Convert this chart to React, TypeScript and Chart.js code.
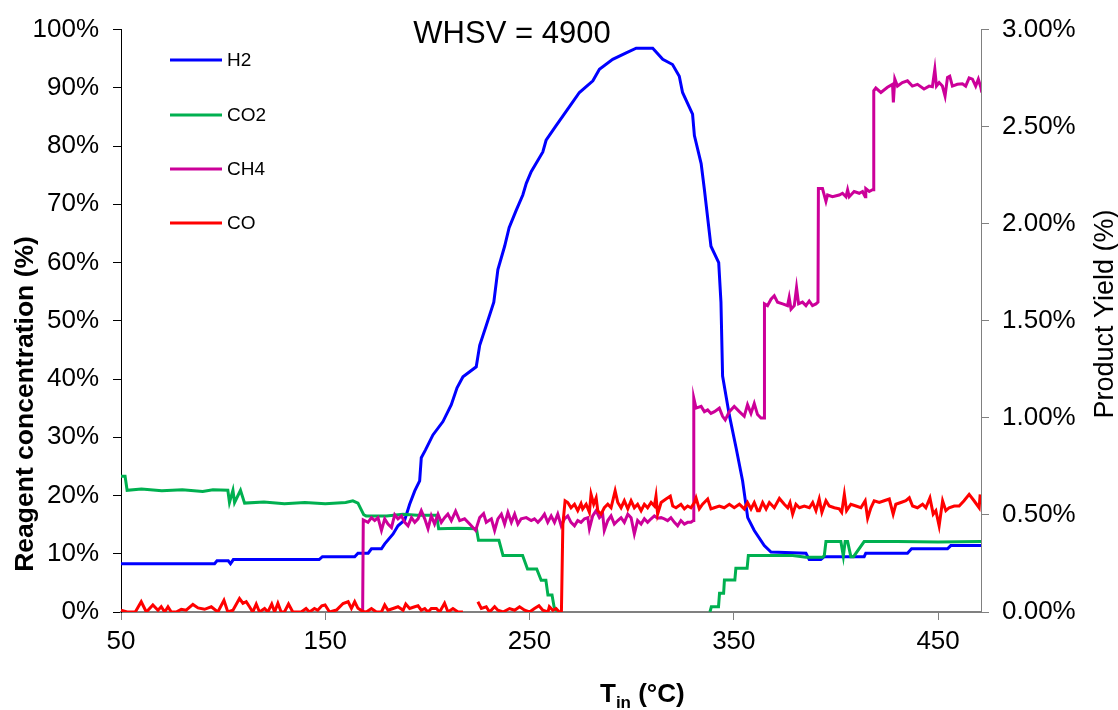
import React, { useEffect, useRef } from "react";
import { Chart, registerables } from "chart.js";

Chart.register(...registerables);

const FONT = '"Liberation Sans", Arial, Helvetica, sans-serif';

// X axis tick labels (inlet temperature, °C)
const xTicks = [50, 150, 250, 350, 450];

// H2 reagent concentration (%)
const h2T = [50, 95.8, 97, 102.5, 103.6, 105, 147, 148.6, 164.4, 166, 171, 172.6, 177.5, 179.1, 183.2, 185.6, 188.9, 191.3, 193.8, 196.2, 197, 199, 202.7, 207.6, 211.7, 214.5, 217.4, 223.9, 225.6, 228.8, 232.5, 234.5, 237.8, 240, 243.5, 246.7, 248.4, 250.8, 256.5, 258.1, 263, 270.4, 274.4, 281, 284.2, 290.7, 297.3, 302.2, 310.3, 315.2, 320, 323.3, 324.9, 329.8, 330.7, 334, 335.6, 338.8, 342.6, 343.7, 344.5, 347.8, 351.1, 354.3, 356.8, 360, 364.9, 368.2, 385.3, 386.9, 392.6, 394.3, 413.8, 414.6, 435, 437, 454.6, 456.2, 471];
const h2V = [8.3, 8.3, 8.8, 8.8, 8.3, 9.0, 9.0, 9.5, 9.5, 10.1, 10.1, 10.85, 10.85, 11.7, 13.4, 14.8, 15.8, 18.5, 20.8, 22.5, 26.5, 27.8, 30.4, 32.7, 35.6, 38.5, 40.4, 42.1, 45.8, 49.2, 53.2, 58.8, 62.8, 66, 69.0, 71.6, 73.6, 75.6, 79.0, 81.0, 83.5, 87.2, 89.2, 91.2, 93.2, 94.9, 96.0, 96.8, 96.8, 94.9, 94.0, 92.0, 89.2, 85.5, 81.8, 77.0, 72.5, 62.8, 60.0, 53.2, 40.5, 33.8, 28.2, 22.5, 16.2, 14.0, 11.4, 10.3, 10.1, 9.0, 9.0, 9.5, 9.5, 10.1, 10.1, 10.85, 10.85, 11.4, 11.4];

// CO2 reagent concentration (%)
const co2T = [50, 52, 53, 60, 70, 80, 90, 95, 102.3, 103.1, 104.8, 105.6, 108.5, 110.5, 120, 130, 140, 150, 160, 163.5, 166, 168.8, 170, 180, 188, 195, 204.5, 205.5, 215, 224, 225, 235, 237, 246.6, 249, 253.5, 255.7, 258, 259, 261, 262, 263.5, 300, 338.3, 339, 342.5, 343, 345, 345.4, 350.5, 351, 356.5, 357.1, 365, 378.8, 385.3, 393.5, 394.3, 395.1, 402.4, 403.6, 404.5, 405.7, 407.3, 408.6, 413.8, 430, 450, 471];
const co2V = [23.3, 23.3, 20.9, 21.1, 20.8, 21.0, 20.7, 21.0, 20.9, 18.8, 20.9, 18.8, 20.9, 18.7, 18.9, 18.6, 18.8, 18.6, 18.8, 19.1, 18.7, 16.7, 16.5, 16.5, 16.8, 16.6, 16.6, 14.3, 14.4, 14.3, 12.3, 12.3, 9.7, 9.7, 7.4, 7.4, 5.45, 5.45, 2.9, 2.9, 0.9, 0.1, null, 0, 0.9, 0.9, 3.2, 3.2, 5.5, 5.5, 7.5, 7.5, 9.7, 9.7, 9.7, 9.4, 9.4, 9.7, 12.1, 12.1, 9.6, 12.1, 12.1, 9.5, 9.5, 12.1, 12.1, 12.0, 12.1];

// CH4 product yield (%)
const ch4T = [168.3, 168.6, 170.9, 172.6, 174.2, 175.8, 177.5, 179.1, 180.7, 182.4, 184.0, 185.6, 187.3, 188.9, 190.5, 192.2, 193.8, 195.4, 197.0, 198.7, 200.3, 201.9, 203.5, 205.2, 206.8, 208.4, 210.0, 211.7, 213.8, 215.8, 218.2, 220.7, 223.6, 225.6, 227.5, 228.8, 231.3, 232.9, 234.5, 236.2, 237.8, 239.4, 241.1, 242.7, 244.3, 245.9, 248.4, 250.8, 252.4, 254.1, 255.7, 257.3, 258.9, 260.6, 262.2, 263.8, 265.5, 267.1, 268.7, 270.3, 272.0, 273.6, 275.2, 276.9, 278.5, 279.3, 280.9, 282.6, 284.2, 285.8, 286.6, 288.3, 289.9, 291.5, 293.2, 294.8, 296.4, 298.1, 299.7, 301.3, 302.9, 304.6, 306.2, 307.8, 309.5, 311.1, 312.7, 314.4, 316.0, 317.6, 319.2, 320.9, 322.5, 324.1, 325.8, 327.4, 329.0, 330.2, 330.4, 331.5, 334.0, 335.6, 337.2, 338.8, 340.5, 342.9, 344.5, 345.8, 347.8, 350.2, 352.7, 355.1, 356.7, 358.4, 360.0, 361.6, 363.3, 364.8, 365.0, 366.5, 368.2, 369.8, 371.4, 373.9, 376.3, 377.1, 378.0, 379.6, 380.7, 381.7, 383.6, 385.3, 386.9, 388.5, 390.2, 391.2, 391.4, 393.4, 395.1, 395.9, 398.3, 401.6, 403.2, 404.9, 405.7, 406.5, 408.9, 411.4, 413.0, 414.3, 414.6, 416.3, 417.9, 418.3, 418.5, 419.5, 422.0, 425.2, 427.7, 428.1, 428.8, 430.1, 432.5, 435.0, 437.4, 439.9, 443.1, 445.6, 447.2, 448.4, 449.2, 450.5, 452.1, 453.4, 454.6, 455.7, 457.0, 459.4, 461.9, 463.5, 465.2, 466.8, 468.4, 469.7, 470.9, 471.4];
const ch4Y = [0, 0.474, 0.462, 0.486, 0.471, 0.486, 0.420, 0.480, 0.453, 0.435, 0.501, 0.480, 0.495, 0.462, 0.444, 0.486, 0.462, 0.480, 0.522, 0.480, 0.429, 0.495, 0.453, 0.504, 0.462, 0.486, 0.504, 0.471, 0.519, 0.471, 0.480, 0.453, 0.420, 0.486, 0.507, 0.462, 0.480, 0.420, 0.480, 0.504, 0.453, 0.513, 0.462, 0.504, 0.453, 0.480, 0.486, 0.471, 0.480, 0.462, 0.480, 0.504, 0.462, 0.495, 0.462, 0.504, 0.444, 0.480, 0.495, 0.462, 0.444, 0.471, 0.462, 0.480, 0.486, 0.429, 0.495, 0.522, 0.486, 0.504, 0.420, 0.471, 0.495, 0.453, 0.471, 0.486, 0.462, 0.504, 0.486, 0.402, 0.471, 0.453, 0.480, 0.462, 0.480, 0.495, 0.483, 0.486, 0.480, 0.471, 0.486, 0.462, 0.444, 0.471, 0.453, 0.462, 0.462, 0.471, 1.101, 1.050, 1.059, 1.032, 1.041, 1.023, 1.032, 1.050, 1.008, 0.990, 1.032, 1.059, 1.032, 1.008, 1.068, 1.023, 1.074, 1.017, 0.999, 0.999, 1.587, 1.578, 1.611, 1.629, 1.596, 1.587, 1.578, 1.620, 1.560, 1.578, 1.671, 1.587, 1.596, 1.578, 1.602, 1.578, 1.587, 1.596, 2.181, 2.181, 2.115, 2.148, 2.139, 2.148, 2.157, 2.139, 2.175, 2.139, 2.166, 2.157, 2.166, 2.139, 2.181, 2.166, 2.175, 2.175, 2.685, 2.699, 2.676, 2.703, 2.718, 2.625, 2.745, 2.709, 2.727, 2.736, 2.709, 2.718, 2.694, 2.709, 2.706, 2.796, 2.709, 2.727, 2.709, 2.658, 2.754, 2.760, 2.709, 2.718, 2.721, 2.709, 2.751, 2.745, 2.709, 2.745, 2.703, 2.676];

// CO product yield (%)
const coT = [50, 53, 57, 59.9, 62.4, 65.6, 68.1, 69.7, 71.4, 73.0, 74.6, 77, 79.5, 81.9, 85.2, 87.7, 90.9, 94.2, 97.4, 100.4, 102.3, 104.8, 108.0, 109.7, 111.3, 112.9, 114.5, 116.2, 117.8, 120.3, 121.9, 123.8, 125.2, 126.8, 128.4, 130.0, 132.0, 134.1, 138.2, 140.6, 142.3, 144.7, 146.3, 148.3, 149.9, 152.1, 155.5, 158.7, 161.2, 162.8, 164.4, 166.0, 168.5, 170.1, 172.6, 175.0, 177.5, 179.1, 180.7, 183.2, 185.6, 188.1, 189.4, 191.3, 193.8, 195.4, 197.0, 198.7, 200.3, 201.9, 204.4, 206.0, 208.4, 210.1, 212.5, 215.0, 217.4, 221, 224.7, 226.4, 228.8, 230.4, 232.9, 234.5, 237.0, 240.2, 242.7, 245.1, 247.6, 250.0, 252.4, 254.6, 256.5, 259.0, 259.7, 261.4, 263.0, 264.6, 265.6, 266.3, 267.4, 268.7, 270.3, 272.0, 273.6, 275.2, 276.0, 277.7, 279.3, 280.1, 281.4, 282.6, 283.4, 285.0, 286.6, 288.3, 289.9, 291.9, 293.2, 294.8, 296.4, 298.1, 299.7, 301.3, 302.9, 304.6, 306.2, 307.8, 309.5, 311.1, 311.9, 312.7, 314.4, 316.8, 318.9, 320.1, 321.7, 324.1, 325.8, 327.4, 329.0, 330.7, 331.5, 333.1, 334.7, 337.2, 338.8, 340.4, 342.9, 345.3, 347.8, 350.2, 352.7, 355.1, 356.7, 358.4, 360.0, 361.6, 362.5, 364.1, 365.8, 367.4, 369.8, 372.3, 374.7, 376.4, 377.5, 378.8, 380.4, 382.1, 384.5, 387.0, 388.6, 390.2, 391.8, 393.1, 395.1, 396.7, 399.2, 401.6, 402.8, 404.1, 405.2, 407.3, 409.8, 412.2, 414.3, 415.5, 417.1, 418.7, 421.2, 423.6, 426.1, 428.0, 429.3, 431.8, 434.2, 435.9, 437.5, 439.9, 442.4, 444.0, 446.0, 447.6, 448.9, 450.5, 452.2, 453.8, 455.4, 457.9, 460.3, 462.7, 465.2, 467.6, 470.1, 470.6];
const coY = [0.009, 0, 0, 0.053, 0, 0.036, 0.009, 0.027, 0, 0.027, 0, 0, 0.014, 0.009, 0.039, 0.021, 0.014, 0.027, 0, 0.06, 0, 0.009, 0.069, 0.045, 0.053, 0.027, 0, 0.041, 0, 0.018, 0, 0.041, 0, 0.045, 0, 0, 0.041, 0, 0, 0.018, 0, 0.018, 0.009, 0.032, 0.036, 0, 0.010, 0.044, 0.053, 0.019, 0.053, 0.019, 0.002, 0, 0.018, 0, 0, 0.036, 0.009, 0.018, 0.027, 0.009, 0.041, 0.018, 0.027, 0.032, 0.009, 0.018, 0, 0.018, 0.018, 0, 0.045, 0, 0.018, 0, 0, null, 0.053, 0.018, 0.027, 0, 0.027, 0.009, 0, 0.018, 0.009, 0.027, 0.009, 0, 0.018, 0.032, 0.009, 0, 0.027, 0.009, 0.018, 0, 0, 0.45, 0.573, 0.564, 0.537, 0.555, 0.522, 0.558, 0.531, 0.555, 0.513, 0.606, 0.555, 0.588, 0.522, 0.504, 0.537, 0.555, 0.537, 0.624, 0.564, 0.537, 0.573, 0.531, 0.573, 0.537, 0.555, 0.522, 0.555, 0.537, 0.564, 0.546, 0.597, 0.504, 0.564, 0.582, 0.597, 0.546, 0.537, 0.555, 0.531, 0.546, 0.537, 0.564, 0.588, 0.531, 0.555, 0.582, 0.531, 0.537, 0.546, 0.537, 0.555, 0.537, 0.555, 0.531, 0.564, 0.531, 0.564, 0.522, 0.522, 0.564, 0.531, 0.564, 0.537, 0.585, 0.555, 0.537, 0.564, 0.504, 0.555, 0.537, 0.546, 0.537, 0.564, 0.522, 0.582, 0.513, 0.573, 0.546, 0.537, 0.531, 0.513, 0.606, 0.522, 0.555, 0.546, 0.537, 0.573, 0.483, 0.537, 0.573, 0.564, 0.573, 0.582, 0.504, 0.555, 0.564, 0.573, 0.588, 0.546, 0.537, 0.555, 0.537, 0.588, 0.504, 0.522, 0.444, 0.573, 0.522, 0.537, 0.546, 0.546, 0.573, 0.606, 0.573, 0.537, 0.606];

const seriesNames = ["H2", "CO2", "CH4", "CO"];
const seriesColors = ["#0000FF", "#00B050", "#CC0099", "#FF0000"];

const zip = (xs: number[], ys: (number | null)[]) => xs.map((x, i) => ({ x, y: ys[i] }));

const overlayPlugin = {
  id: "overlay",
  afterDraw(chart: any) {
    const ctx = chart.ctx as CanvasRenderingContext2D;
    ctx.save();
    ctx.fillStyle = "#000";
    // title inside plot
    ctx.font = `31px ${FONT}`;
    ctx.textAlign = "center";
    ctx.textBaseline = "alphabetic";
    ctx.fillText("WHSV = 4900", 512, 43);

    // legend
    const rows = [60, 115, 169, 223];
    ctx.font = `19px ${FONT}`;
    ctx.textAlign = "left";
    ctx.textBaseline = "middle";
    seriesNames.forEach((n, i) => {
      ctx.strokeStyle = seriesColors[i];
      ctx.lineWidth = 3;
      ctx.beginPath();
      ctx.moveTo(170, rows[i]);
      ctx.lineTo(222, rows[i]);
      ctx.stroke();
      ctx.fillText(n, 227, rows[i] + 1);
    });

    // left axis title
    ctx.save();
    ctx.translate(33, 404);
    ctx.rotate(-Math.PI / 2);
    ctx.font = `bold 26.5px ${FONT}`;
    ctx.textAlign = "center";
    ctx.textBaseline = "alphabetic";
    ctx.fillText("Reagent concentration (%)", 0, 0);
    ctx.restore();

    // right axis title
    ctx.save();
    ctx.translate(1113, 314);
    ctx.rotate(-Math.PI / 2);
    ctx.font = `27px ${FONT}`;
    ctx.textAlign = "center";
    ctx.textBaseline = "alphabetic";
    ctx.fillText("Product Yield (%)", 0, 0);
    ctx.restore();

    // x axis title with subscript
    ctx.textAlign = "left";
    ctx.textBaseline = "alphabetic";
    let x = 600;
    const y = 702;
    ctx.font = `bold 26px ${FONT}`;
    ctx.fillText("T", x, y);
    x += ctx.measureText("T").width;
    ctx.font = `bold 17px ${FONT}`;
    ctx.fillText("in", x, y + 6);
    x += ctx.measureText("in").width;
    ctx.font = `bold 26px ${FONT}`;
    ctx.fillText(" (°C)", x, y);
    ctx.restore();
  },
};

export default function App() {
  const ref = useRef<HTMLCanvasElement>(null);
  useEffect(() => {
    document.body.style.margin = "0";
    const canvas = ref.current!;
    const tickFont = { family: FONT, size: 26 };
    const chart = new Chart(canvas, {
      type: "line",
      data: {
        datasets: [
          { label: "H2", data: zip(h2T, h2V), borderColor: seriesColors[0], yAxisID: "y", order: 3 },
          { label: "CO2", data: zip(co2T, co2V), borderColor: seriesColors[1], yAxisID: "y", order: 2 },
          { label: "CH4", data: zip(ch4T, ch4Y), borderColor: seriesColors[2], yAxisID: "y1", order: 1 },
          { label: "CO", data: zip(coT, coY), borderColor: seriesColors[3], yAxisID: "y1", order: 0 },
        ] as any,
      },
      options: {
        animation: false,
        responsive: false,
        events: [],
        layout: { padding: { top: 25, left: 0, right: 0, bottom: 0 } },
        elements: {
          point: { radius: 0 },
          line: { borderWidth: 3, tension: 0, fill: false },
        },
        plugins: { legend: { display: false }, tooltip: { enabled: false } },
        scales: {
          x: {
            type: "linear",
            min: 50,
            max: 471,
            afterBuildTicks: (s: any) => {
              s.ticks = xTicks.map((v) => ({ value: v }));
            },
            afterFit: (s: any) => {
              s.height = 98;
            },
            grid: { drawOnChartArea: false, drawTicks: true, tickLength: 8, color: "#808080" },
            border: { color: "#808080", width: 2 },
            ticks: { font: tickFont, color: "#000", padding: 6, maxRotation: 0, autoSkip: false },
          },
          y: {
            position: "left",
            min: 0,
            max: 100,
            afterFit: (s: any) => {
              s.width = 121;
            },
            grid: { drawOnChartArea: false, drawTicks: true, tickLength: 8, color: "#000" },
            border: { color: "#000", width: 1 },
            ticks: {
              stepSize: 10,
              font: tickFont,
              color: "#000",
              padding: 14,
              callback: (v: any) => `${v}%`,
            },
          },
          y1: {
            position: "right",
            min: 0,
            max: 3,
            afterFit: (s: any) => {
              s.width = 137;
            },
            grid: { drawOnChartArea: false, drawTicks: true, tickLength: 8, color: "#808080" },
            border: { color: "#808080", width: 1 },
            ticks: {
              stepSize: 0.5,
              font: tickFont,
              color: "#000",
              padding: 13,
              callback: (v: any) => `${Number(v).toFixed(2)}%`,
            },
          },
        },
      } as any,
      plugins: [overlayPlugin],
    });
    return () => chart.destroy();
  }, []);
  return (
    <div style={{ width: 1118, height: 710 }}>
      <canvas ref={ref} width={1118} height={710} style={{ display: "block" }} />
    </div>
  );
}
